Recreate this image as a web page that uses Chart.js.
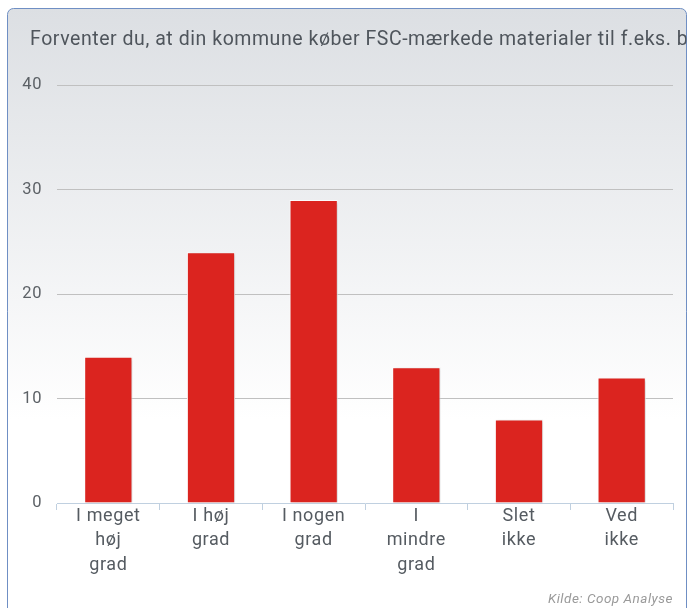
<!DOCTYPE html>
<html>
<head>
<meta charset="utf-8">
<script src="https://cdn.jsdelivr.net/npm/chart.js@4"></script>
<style>
  body { margin: 0; background: #ffffff; }
  #wrap { width: 689px; height: 608px; }
</style>
</head>
<body>
<div id="wrap"><canvas id="chart" width="689" height="608"></canvas></div>
<script>
const titleText = 'Forventer du, at din kommune køber FSC-mærkede materialer til f.eks. byggeri?';
const categories = [
    ['I meget', 'høj', 'grad'],
    ['I høj', 'grad'],
    ['I nogen', 'grad'],
    ['I', 'mindre', 'grad'],
    ['Slet', 'ikke'],
    ['Ved', 'ikke']
];
const values = [14, 24, 29, 13, 8, 12];
const creditText = 'Kilde: Coop Analyse';

const FONT = 'Roboto, "DejaVu Sans", sans-serif';

// background panel, title and credit line
const framePlugin = {
    id: 'frame',
    beforeDraw(chart) {
        const ctx = chart.ctx;
        ctx.save();
        const g = ctx.createLinearGradient(0, 8, 0, 420);
        g.addColorStop(0, '#dcdfe3');
        g.addColorStop(1, '#ffffff');
        ctx.beginPath();
        ctx.roundRect(7.5, 8.5, 679, 640, 6);
        ctx.fillStyle = g;
        ctx.fill();
        ctx.strokeStyle = '#6f8fc4';
        ctx.lineWidth = 1;
        ctx.stroke();
        ctx.clip();
        ctx.fillStyle = '#4f555c';
        ctx.font = '19.5px ' + FONT;
        ctx.letterSpacing = '0.55px';
        ctx.textBaseline = 'middle';
        ctx.textAlign = 'left';
        ctx.fillText(titleText, 30, 40);
        ctx.restore();
        // wider spacing for the axis labels, like the original typeface
        ctx.letterSpacing = '0.6px';
    },
    beforeDatasetsDraw(chart) {
        const ctx = chart.ctx;
        ctx.save();
        ctx.shadowColor = 'rgba(0,0,0,0.18)';
        ctx.shadowOffsetX = 2;
        ctx.shadowOffsetY = 1;
        ctx.shadowBlur = 3;
    },
    afterDatasetsDraw(chart) {
        chart.ctx.restore();
    },
    afterDraw(chart) {
        const ctx = chart.ctx;
        ctx.save();
        ctx.fillStyle = '#9a9a9a';
        ctx.font = 'italic 13.5px ' + FONT;
        ctx.letterSpacing = '0.5px';
        ctx.textAlign = 'right';
        ctx.textBaseline = 'middle';
        ctx.fillText(creditText, 673, 600);
        ctx.restore();
        ctx.letterSpacing = '0px';
    }
};

new Chart(document.getElementById('chart'), {
    type: 'bar',
    data: {
        labels: categories,
        datasets: [{
            data: values,
            backgroundColor: '#db241f',
            borderColor: '#ffffff',
            borderWidth: 1,
            barPercentage: 0.47,
            categoryPercentage: 1
        }]
    },
    options: {
        responsive: false,
        animation: false,
        layout: { padding: { top: 85, right: 16, left: 0, bottom: 0 } },
        plugins: {
            legend: { display: false },
            title: { display: false },
            tooltip: { enabled: false }
        },
        scales: {
            y: {
                min: 0,
                max: 40,
                afterFit(s) { s.width = 57; },
                ticks: {
                    stepSize: 10,
                    padding: 15,
                    color: '#5c6166',
                    font: { family: FONT, size: 16.5 }
                },
                grid: {
                    drawTicks: false,
                    color: ctx => ctx.tick && ctx.tick.value === 0 ? 'rgba(0,0,0,0)' : '#c0c0c0'
                },
                border: { display: false }
            },
            x: {
                afterFit(s) { s.height = 105; },
                ticks: {
                    padding: -6,
                    color: '#555b61',
                    maxRotation: 0,
                    autoSkip: false,
                    font: { family: FONT, size: 18, lineHeight: 1.36 }
                },
                grid: {
                    drawOnChartArea: false,
                    drawTicks: true,
                    tickLength: 7,
                    color: '#c0d0e0'
                },
                border: { color: '#c0d0e0' }
            }
        }
    },
    plugins: [framePlugin]
});
</script>
</body>
</html>
